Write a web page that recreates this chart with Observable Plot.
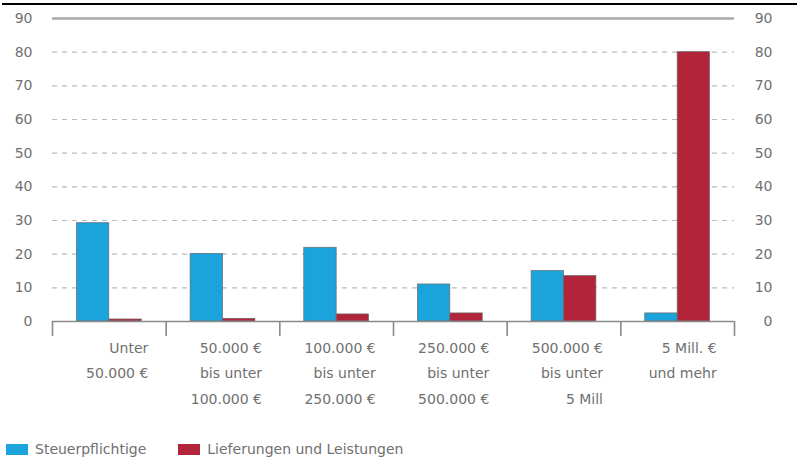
<!DOCTYPE html>
<html>
<head>
<meta charset="utf-8">
<script src="https://cdn.jsdelivr.net/npm/d3@7"></script>
<script src="https://cdn.jsdelivr.net/npm/@observablehq/plot@0.6"></script>
<style>
  html, body { margin: 0; padding: 0; background: #fff; }
  body { width: 797px; height: 467px; position: relative; overflow: hidden; font-family: "DejaVu Sans", sans-serif; }
  #topline { position: absolute; left: 2px; right: 0; top: 3px; height: 2px; background: #000; }
  #chart { position: absolute; left: 0; top: 0; }
  #legend { position: absolute; left: 6px; top: 441px; display: flex; align-items: center; font-size: 14px; color: #707070; }
  .sw { display: inline-block; width: 22px; height: 11px; margin-right: 7px; }
  .item { display: flex; align-items: center; margin-right: 32px; }
</style>
</head>
<body>
<div id="topline"></div>
<div id="chart"></div>
<div id="legend"></div>
<script>
const categories = [
  "Unter\n50.000 €",
  "50.000 €\nbis unter\n100.000 €",
  "100.000 €\nbis unter\n250.000 €",
  "250.000 €\nbis unter\n500.000 €",
  "500.000 €\nbis unter\n5 Mill",
  "5 Mill. €\nund mehr"
];
const seriesNames = ["Steuerpflichtige", "Lieferungen und Leistungen"];
const steuerpflichtige = [29.2, 20.1, 21.9, 11.0, 15.0, 2.4];
const lieferungen = [0.6, 0.8, 2.1, 2.4, 13.5, 80.0];
const yTicks = [0, 10, 20, 30, 40, 50, 60, 70, 80, 90];
const colors = ["#1ba3dc", "#b1243a"];

const rows = [];
categories.forEach((c, i) => {
  rows.push({i, series: seriesNames[0], value: steuerpflichtige[i]});
  rows.push({i, series: seriesNames[1], value: lieferungen[i]});
});
const boundaries = d3.range(categories.length + 1);
const barW = 0.285;

const grey = "#707070";
const plot = Plot.plot({
  width: 797,
  height: 431,
  marginTop: 18,
  marginBottom: 110,
  marginLeft: 52,
  marginRight: 63,
  style: {fontFamily: "DejaVu Sans, sans-serif", fontSize: "14px", color: grey, background: "transparent"},
  x: {type: "linear", domain: [0, categories.length], axis: null},
  y: {domain: [0, 90], axis: null},
  color: {domain: seriesNames, range: colors},
  marks: [
    Plot.ruleY(yTicks.filter(t => t > 0 && t < 90), {stroke: "#bbb", strokeWidth: 1.2, strokeDasharray: "5,5"}),
    Plot.ruleY([90], {stroke: "#aaa", strokeWidth: 2.5}),
    Plot.rectY(rows, {
      x1: d => d.series === seriesNames[0] ? d.i + 0.5 - barW : d.i + 0.5,
      x2: d => d.series === seriesNames[0] ? d.i + 0.5 : d.i + 0.5 + barW,
      y1: 0, y2: "value",
      fill: "series", stroke: "#6a6a6a", strokeWidth: 0.7
    }),
    Plot.ruleY([0], {stroke: "#8a8a8a", strokeWidth: 1.6}),
    Plot.axisX({ticks: boundaries, tickSize: 15, tickFormat: () => "", stroke: "#8a8a8a", strokeWidth: 1.6, label: null}),
    Plot.axisY({anchor: "left", ticks: yTicks, tickSize: 0, tickPadding: 20, fill: grey, label: null}),
    Plot.axisY({anchor: "right", ticks: yTicks, tickSize: 0, tickPadding: 38, textAnchor: "end", fill: grey, label: null}),
    Plot.text(categories, {
      x: (d, i) => i + 0.5, frameAnchor: "bottom", dy: 13, dx: 39,
      lineAnchor: "top", textAnchor: "end", lineHeight: 1.82, fill: grey, fontSize: 14
    })
  ]
});
document.getElementById("chart").appendChild(plot);

const legend = document.getElementById("legend");
seriesNames.forEach((s, k) => {
  const item = document.createElement("span");
  item.className = "item";
  const sw = document.createElement("span");
  sw.className = "sw";
  sw.style.background = colors[k];
  item.appendChild(sw);
  item.appendChild(document.createTextNode(s));
  legend.appendChild(item);
});
</script>
</body>
</html>
